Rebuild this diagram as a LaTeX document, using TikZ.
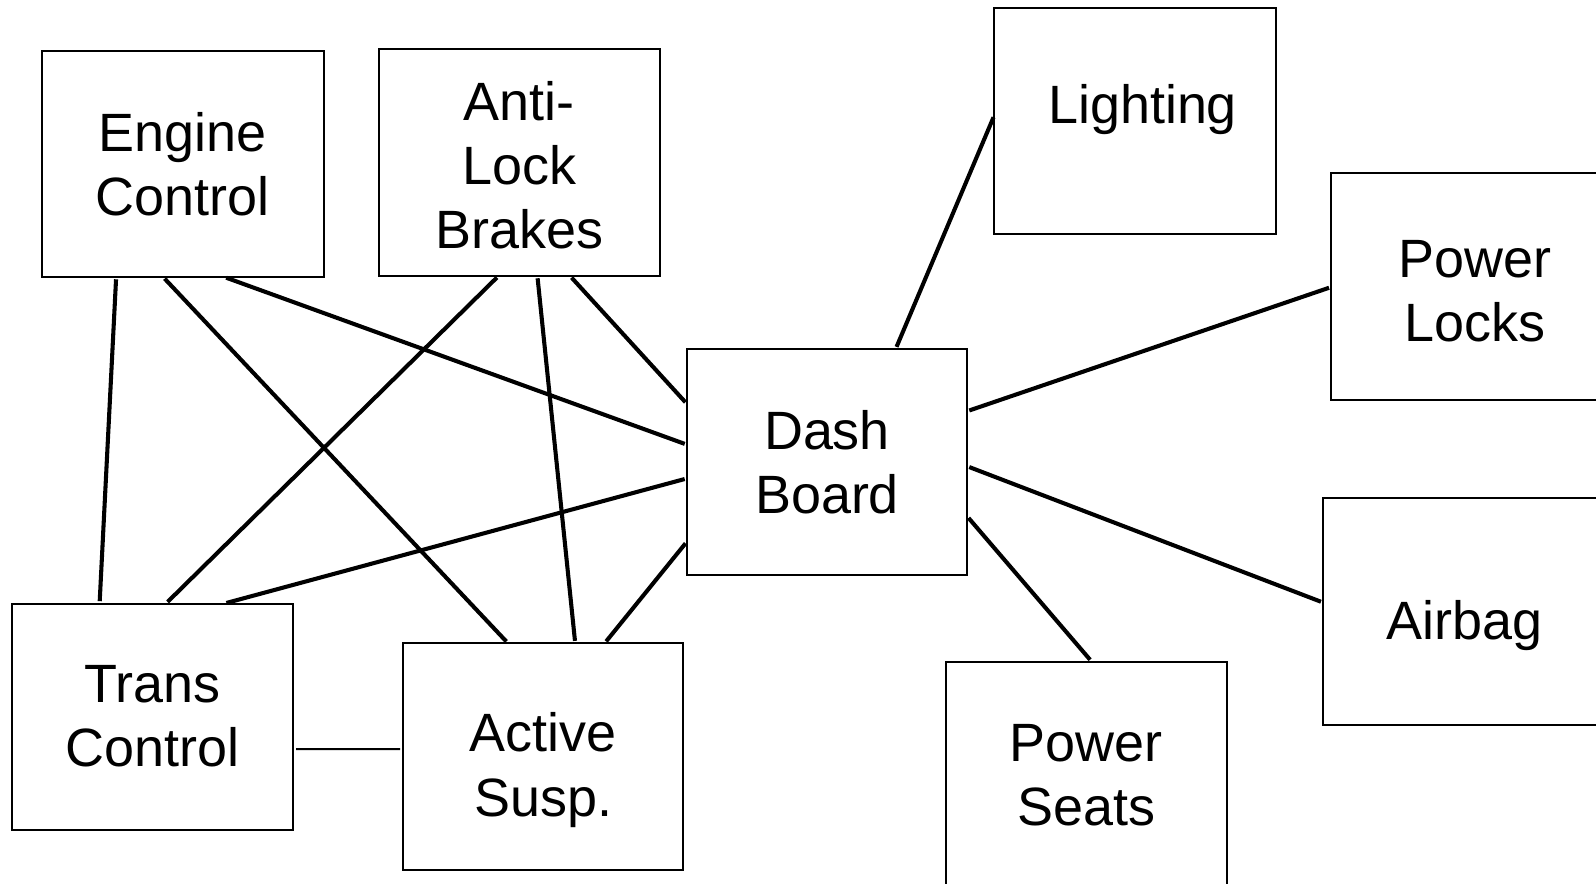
\documentclass[tikz,border=0pt]{standalone}
\usepackage{fontspec}
\setmainfont{Liberation Sans}
\usetikzlibrary{calc}

\tikzset{
  unitbox/.style={draw=black, line width=1pt, rectangle, inner sep=0pt, outer sep=0pt,
    align=center, font=\fontsize{26.5}{31.5}\selectfont},
  link/.style={draw=black, line width=2pt, shorten <=1.2pt, shorten >=1.2pt},
  thinlink/.style={draw=black, line width=1pt, shorten <=1.5pt, shorten >=1.5pt},
  boxlabel/.style={align=center, font=\fontsize{26.5}{31.5}\selectfont},
}

\begin{document}
\begin{tikzpicture}[x=0.5pt, y=-0.5pt]
  \useasboundingbox (0,0) rectangle (1568,868);

  % control units
  \node[unitbox, minimum width=138.5pt, minimum height=111pt] (eng) at (179.5,161) {Engine\\Control};
  \node[unitbox, minimum width=138pt, minimum height=111.5pt,
        label={[boxlabel, yshift=-1.5pt]center:Anti-\\Lock\\Brakes}] (abs) at (510,159.5) {};
  \node[unitbox, minimum width=138.5pt, minimum height=111pt,
        label={[boxlabel, xshift=3.5pt, yshift=5.5pt]center:Lighting}] (lit) at (1115.5,119) {};
  \node[unitbox, minimum width=138.5pt, minimum height=111.5pt,
        label={[boxlabel, xshift=1.5pt, yshift=-2.5pt]center:Power\\Locks}] (plk) at (1446.5,281.5) {};
  \node[unitbox, minimum width=138.5pt, minimum height=111.5pt,
        label={[boxlabel, yshift=-7pt]center:Airbag}] (air) at (1438.5,600.5) {};
  \node[unitbox, minimum width=138pt, minimum height=111.5pt] (sea) at (1067,761.5) {Power\\Seats};
  \node[unitbox, minimum width=137.5pt, minimum height=111pt] (dsh) at (812.5,454) {Dash\\Board};
  \node[unitbox, minimum width=138pt, minimum height=111pt] (trn) at (150,704) {Trans\\Control};
  \node[unitbox, minimum width=137.5pt, minimum height=111.5pt,
        label={[boxlabel, yshift=-6.5pt]center:Active\\Susp.}] (act) at (533.5,743.5) {};

  % links between the left-hand units
  \draw[link] ($(eng.south west)!0.264!(eng.south east)$) -- ($(trn.north west)!0.311!(trn.north east)$);
  \draw[link] ($(eng.south west)!0.430!(eng.south east)$) -- ($(act.north west)!0.375!(act.north east)$);
  \draw[link] ($(eng.south west)!0.646!(eng.south east)$) -- ($(dsh.north west)!0.423!(dsh.south west)$);
  \draw[link] ($(abs.south west)!0.427!(abs.south east)$) -- ($(trn.north west)!0.547!(trn.north east)$);
  \draw[link] ($(abs.south west)!0.565!(abs.south east)$) -- ($(act.north west)!0.615!(act.north east)$);
  \draw[link] ($(abs.south west)!0.681!(abs.south east)$) -- ($(dsh.north west)!0.243!(dsh.south west)$);
  \draw[link] ($(dsh.north west)!0.572!(dsh.south west)$) -- ($(trn.north west)!0.754!(trn.north east)$);
  \draw[link] ($(dsh.north west)!0.851!(dsh.south west)$) -- ($(act.north west)!0.720!(act.north east)$);
  \draw[thinlink] ($(trn.north east)!0.644!(trn.south east)$) -- ($(act.north west)!0.466!(act.south west)$);

  % links from the dash board to the body units
  \draw[link] ($(dsh.north west)!0.745!(dsh.north east)$) -- ($(lit.north west)!0.473!(lit.south west)$);
  \draw[link] ($(dsh.north east)!0.275!(dsh.south east)$) -- ($(plk.north west)!0.502!(plk.south west)$);
  \draw[link] ($(dsh.north east)!0.518!(dsh.south east)$) -- ($(air.north west)!0.462!(air.south west)$);
  \draw[link] ($(dsh.north east)!0.739!(dsh.south east)$) -- ($(sea.north west)!0.520!(sea.north east)$);
\end{tikzpicture}
\end{document}
